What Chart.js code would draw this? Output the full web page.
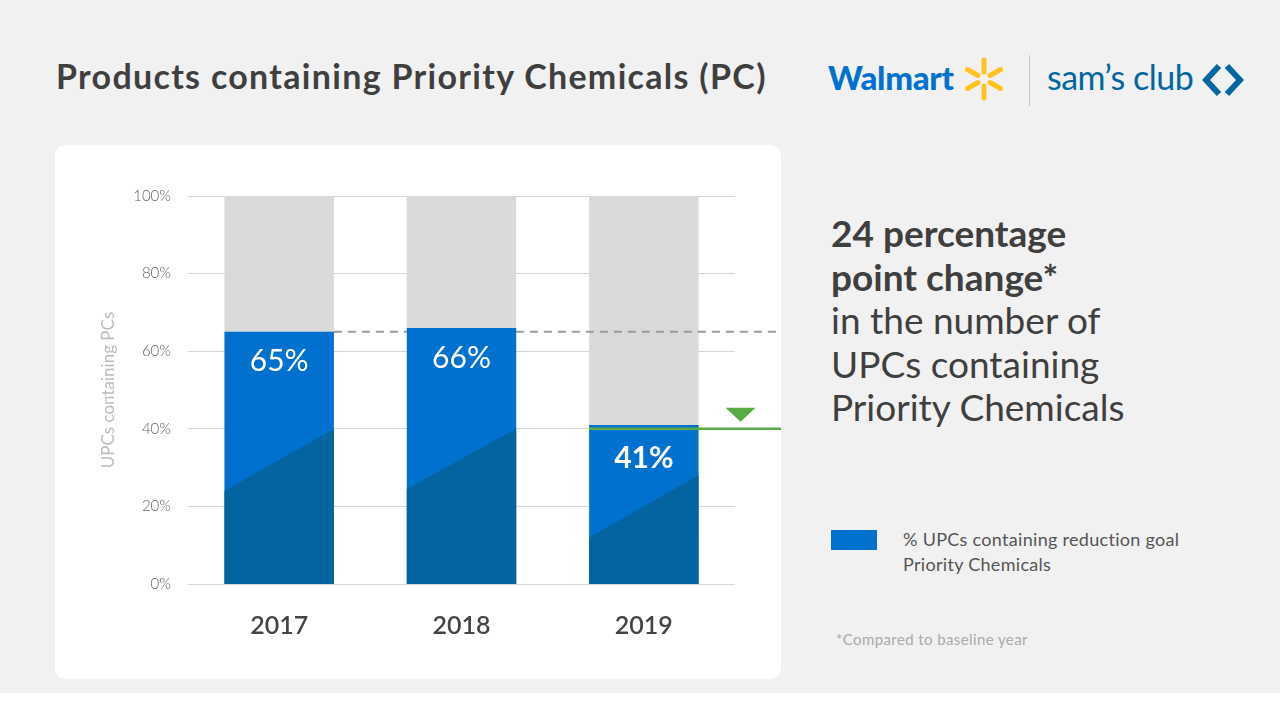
<!DOCTYPE html>
<html>
<head>
<meta charset="utf-8">
<script src="https://cdn.jsdelivr.net/npm/chart.js@4.4.1/dist/chart.umd.min.js"></script>
<style>
  html, body { margin: 0; padding: 0; }
  body { width: 1280px; height: 720px; background: #fff; position: relative; overflow: hidden; font-family: Lato, "Open Sans", sans-serif; }
  .bg { position: absolute; left: 0; top: 0; width: 1280px; height: 693px; background: #f1f1f1; }
  .title { position: absolute; left: 56px; top: 55px; font-size: 34px; font-weight: 700; color: #3f3f3f; letter-spacing: 1.3px; white-space: nowrap; }
  .card { position: absolute; left: 55px; top: 145px; width: 726px; height: 534px; background: #fff; border-radius: 11px; }
  #chart-wrap { position: absolute; left: 55px; top: 145px; width: 726px; height: 534px; }
  .headline { position: absolute; left: 831px; top: 211px; font-size: 37px; line-height: 43.5px; color: #3f3f3f; white-space: nowrap; }
  .headline b { font-weight: 700; }
  .legend-box { position: absolute; left: 831px; top: 530px; width: 46px; height: 20px; background: #0071ce; }
  .legend-text { position: absolute; left: 903px; top: 527px; font-size: 18px; line-height: 25px; color: #555; letter-spacing: 0.3px; white-space: nowrap; }
  .note { position: absolute; left: 836px; top: 630px; font-size: 15px; color: #aaa; letter-spacing: 0.4px; }
  .walmart { position: absolute; left: 828px; top: 57px; font-size: 33px; font-weight: 900; color: #0071ce; letter-spacing: -0.3px; }
  .spark { position: absolute; left: 961px; top: 56px; }
  .divider { position: absolute; left: 1029px; top: 55px; width: 1px; height: 51px; background: #c8c8c8; }
  .sams { position: absolute; left: 1047px; top: 56px; font-size: 34px; color: #0067a0; letter-spacing: -0.5px; }
  .diamond { position: absolute; left: 1202px; top: 62px; }
</style>
</head>
<body>
<div class="bg"></div>
<div class="title">Products containing Priority Chemicals (PC)</div>

<div class="walmart">Walmart</div>
<svg class="spark" width="46" height="46" viewBox="-23 -23 46 46">
  <g stroke="#ffc220" stroke-width="5" stroke-linecap="round">
    <line x1="0" y1="-7" x2="0" y2="-19"/>
    <line x1="0" y1="7" x2="0" y2="19"/>
    <line x1="6" y1="-3.5" x2="16.5" y2="-9.5"/>
    <line x1="-6" y1="-3.5" x2="-16.5" y2="-9.5"/>
    <line x1="6" y1="3.5" x2="16.5" y2="9.5"/>
    <line x1="-6" y1="3.5" x2="-16.5" y2="9.5"/>
  </g>
</svg>
<div class="divider"></div>
<div class="sams">sam’s club</div>
<svg class="diamond" width="42" height="36" viewBox="0 0 42 36">
  <g fill="none" stroke="#0067a0" stroke-width="6" stroke-linejoin="miter">
    <polyline points="17,4 4,18 17,32"/>
    <polyline points="25,4 38,18 25,32"/>
  </g>
</svg>

<div class="card"></div>
<div id="chart-wrap"><canvas id="chart"></canvas></div>

<div class="headline"><b>24 percentage<br>point change*</b><br>in the number of<br>UPCs containing<br>Priority Chemicals</div>
<div class="legend-box"></div>
<div class="legend-text">% UPCs containing reduction goal<br>Priority Chemicals</div>
<div class="note">*Compared to baseline year</div>

<script>
// chart data
const years = ["2017", "2018", "2019"];
const pcShare = [65, 66, 41];          // % UPCs containing reduction goal PCs
const fullBar = [100, 100, 100];       // grey background bars
const darkLeft = [24, 24.5, 12];       // dark wedge height at left edge of bar
const darkRight = [40, 40, 28];        // dark wedge height at right edge of bar
const baselineLevel = 65;              // dashed baseline line
const goalLevel = 40;                  // green goal line
const yTicks = [0, 20, 40, 60, 80, 100];

const blue = "#0071ce";
const darkBlue = "#0464a0";

const barDecor = {
  id: "barDecor",
  beforeDatasetDraw(chart, args) {
    if (args.index !== 0) return;
    // dashed baseline sits between the grey and the blue bars
    const y = chart.scales.y.getPixelForValue(baselineLevel);
    const bar0 = chart.getDatasetMeta(0).data[0];
    const ctx = chart.ctx;
    ctx.save();
    ctx.strokeStyle = "#9a9a9a";
    ctx.lineWidth = 2;
    ctx.setLineDash([8, 6]);
    ctx.beginPath();
    ctx.moveTo(bar0.x + bar0.width / 2, y);
    ctx.lineTo(chart.width, y);
    ctx.stroke();
    ctx.restore();
  },
  afterDatasetDraw(chart, args) {
    if (args.index !== 0) return;
    const ys = chart.scales.y;
    const ctx = chart.ctx;
    ctx.save();
    ctx.fillStyle = darkBlue;
    args.meta.data.forEach((bar, i) => {
      const l = bar.x - bar.width / 2, r = bar.x + bar.width / 2;
      const base = ys.getPixelForValue(0);
      ctx.beginPath();
      ctx.moveTo(l, base);
      ctx.lineTo(l, ys.getPixelForValue(darkLeft[i]));
      ctx.lineTo(r, ys.getPixelForValue(darkRight[i]));
      ctx.lineTo(r, base);
      ctx.closePath();
      ctx.fill();
    });
    ctx.restore();
  },
  afterDatasetsDraw(chart) {
    const ctx = chart.ctx;
    const ys = chart.scales.y;
    const bars = chart.getDatasetMeta(0).data;
    ctx.save();
    // value labels
    ctx.fillStyle = "#fff";
    ctx.textAlign = "center";
    ctx.textBaseline = "middle";
    bars.forEach((bar, i) => {
      const last = i === bars.length - 1;
      ctx.font = (last ? "700 " : "400 ") + "30px Lato, sans-serif";
      ctx.fillText(pcShare[i] + "%", bar.x, ys.getPixelForValue(pcShare[i]) + (last ? 33 : 30));
    });
    // green goal line and marker
    const last = bars[bars.length - 1];
    const gy = ys.getPixelForValue(goalLevel);
    ctx.strokeStyle = "#5aaa46";
    ctx.lineWidth = 2.5;
    ctx.beginPath();
    ctx.moveTo(last.x - last.width / 2, gy);
    ctx.lineTo(chart.width, gy);
    ctx.stroke();
    const tx = last.x + last.width / 2 + 42;
    ctx.fillStyle = "#5aaa46";
    ctx.beginPath();
    ctx.moveTo(tx - 15, gy - 21);
    ctx.lineTo(tx + 15, gy - 21);
    ctx.lineTo(tx, gy - 7);
    ctx.closePath();
    ctx.fill();
    ctx.restore();
  }
};

const chart = new Chart(document.getElementById("chart"), {
  type: "bar",
  data: {
    labels: years,
    datasets: [
      { label: "% UPCs containing reduction goal Priority Chemicals", data: pcShare, backgroundColor: blue, order: 1 },
      { label: "total", data: fullBar, backgroundColor: "#d9d9d9", order: 2 }
    ]
  },
  options: {
    responsive: true,
    maintainAspectRatio: false,
    animation: false,
    datasets: { bar: { grouped: false, barPercentage: 0.6, categoryPercentage: 1 } },
    layout: { padding: { left: 0, top: 51, right: 46, bottom: 0 } },
    plugins: { legend: { display: false }, tooltip: { enabled: false } },
    scales: {
      x: {
        grid: { display: false, drawTicks: false },
        border: { display: false },
        ticks: { color: "#444", padding: 27, font: { family: "Lato", size: 25, weight: "600" } },
        afterFit(s) { s.height = 95; }
      },
      y: {
        min: 0, max: 100,
        afterBuildTicks(s) { s.ticks = yTicks.map(v => ({ value: v })); },
        grid: { color: "#d6d6d6", lineWidth: 1, drawTicks: false },
        border: { display: false },
        ticks: { color: "#666", padding: 17, font: { family: "Lato", size: 15, weight: "300" }, callback: v => v + "%" },
        title: { display: true, text: "UPCs containing PCs", color: "#bdbdbd", padding: { top: 43, bottom: 0 }, font: { family: "Lato", size: 17, weight: "400" } },
        afterFit(s) { s.width = 133; }
      }
    }
  },
  plugins: [barDecor]
});
</script>
</body>
</html>
